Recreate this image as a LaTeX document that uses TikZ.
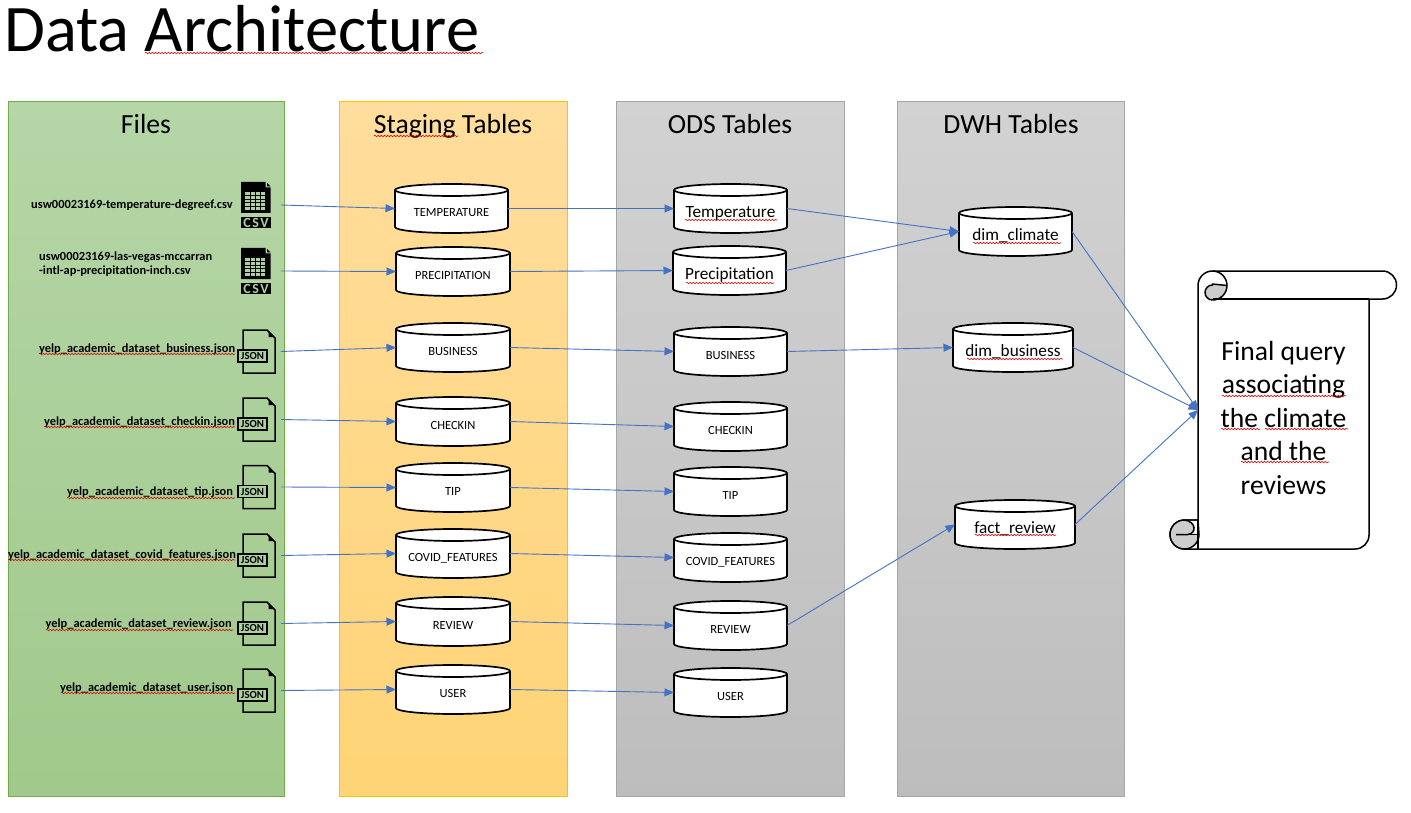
\documentclass[tikz,border=0pt]{standalone}
\usepackage{fontspec}
\setmainfont{Carlito}
\usetikzlibrary{arrows.meta,decorations.pathmorphing}
\definecolor{linkblue}{HTML}{4472C4}
\definecolor{greenA}{HTML}{B5D6A7}
\definecolor{greenB}{HTML}{A0C98B}
\definecolor{greenE}{HTML}{70AD47}
\definecolor{orangeA}{HTML}{FFDD9C}
\definecolor{orangeB}{HTML}{FFD476}
\definecolor{orangeE}{HTML}{FFC000}
\definecolor{greyA}{HTML}{D2D2D2}
\definecolor{greyB}{HTML}{BDBDBD}
\definecolor{greyE}{HTML}{A5A5A5}
\definecolor{curl}{HTML}{CDCDCD}
\definecolor{iconlight}{HTML}{ADD0A0}
\tikzset{
  panel/.style={line width=0.8pt},
  paneltitle/.style={inner sep=0pt,text height=20pt,text depth=6pt,font=\fontsize{27.7}{32}\selectfont},
  filelabel/.style={inner sep=0pt,anchor=west,align=left,font=\fontsize{12.4}{14}\selectfont\bfseries},
  cylbody/.style={draw=black,fill=white,line width=1.7pt},
  cylnode/.style={inner sep=0pt,outer sep=0pt},
  smallcap/.style={font=\fontsize{12.5}{14}\selectfont},
  bigcap/.style={font=\fontsize{17.2}{20}\selectfont},
  iconnode/.style={inner sep=0pt,outer sep=0pt,minimum width=43pt,minimum height=43pt},
  link/.style={draw=linkblue,line width=0.9pt,-{Triangle[length=9.5pt,width=8pt]}},
  squiggle/.style={draw=red!85!black,line width=0.55pt,decorate,decoration={snake,amplitude=0.8pt,segment length=3.2pt}},
  scrollline/.style={draw=black,line width=1.5pt,line join=round}
}
\newcommand{\lowered}[1]{\raisebox{-1pt}[0pt][0pt]{#1}}
\newcommand{\cylshape}[7]{% name, cx, cy, w, h, text, style
  \pgfmathsetmacro{\hw}{#4/2}\pgfmathsetmacro{\hh}{#5/2}
  \begin{scope}[shift={(#2,#3)}]
    \draw[cylbody] (-\hw,-\hh+6) arc[start angle=180,end angle=0,x radius=\hw pt,y radius=6pt]
      -- (\hw,\hh-6) arc[start angle=0,end angle=-180,x radius=\hw pt,y radius=6pt] -- cycle;
    \draw[cylbody,fill=none] (-\hw,-\hh+6) arc[start angle=180,end angle=360,x radius=\hw pt,y radius=6pt];
  \end{scope}
  \node[cylnode,#7,minimum width=#4 pt,minimum height=#5 pt] (#1) at (#2,#3) {\raisebox{-8pt}[0pt][0pt]{#6}};
}
\newcommand{\jsonicon}[2]{% name, cy
  \node[iconnode] (#1) at (259.5,#2) {};
  \begin{scope}[shift={(259.5,#2)}]
    \draw[line width=1.5pt,line join=miter] (7.5,-21.5) -- (-16.5,-21.5) -- (-16.5,21.5) -- (15.5,21.5) -- (15.5,-13.5) -- cycle;
    \fill (9,-20) -- (14,-14.5) -- (9,-14.5) -- cycle;
    \draw[line width=1.7pt,fill=iconlight] (-21.5,-1.5) rectangle (7.5,10.5);
    \node[inner sep=0pt,font=\fontsize{10.8}{11}\selectfont\bfseries] (#1t) at (-7,4.5) {JSON};
  \end{scope}
}
\newcommand{\csvicon}[2]{% name, cy
  \node[iconnode] (#1) at (259.5,#2) {};
  \begin{scope}[shift={(259.5,#2)}]
    \fill (-18.5,-23) -- (6,-23) -- (6,-17.5) -- (11,-17.5) -- (11,8) -- (-18.5,8) -- cycle;
    \fill (7.5,-22) -- (11,-18.5) -- (7.5,-18.5) -- cycle;
    \fill[iconlight] (-14.5,-13) rectangle (5.5,5);
    \foreach \gx in {-9.5,-4.5,0.5}
      \draw[black,line width=0.7pt] (\gx,-13) -- (\gx,5);
    \foreach \gy in {-9.4,-5.8,-2.2,1.4}
      \draw[black,line width=0.7pt] (-14.5,\gy) -- (5.5,\gy);
    \fill (-18.5,12) rectangle (11.5,23);
    \node[inner sep=0pt,text=iconlight,font=\fontsize{14}{14}\selectfont\bfseries] (#1t) at (-3.5,17.5) {C\kern1.5pt S\kern1.5pt V};
  \end{scope}
}
\newcommand{\squig}[3]{\path[squiggle] (#1,#3) -- (#2,#3);}
\begin{document}
\begin{tikzpicture}[x=1pt,y=-1pt]
\useasboundingbox (0,0) rectangle (1411,813);
\fill[white] (0,0) rectangle (1411,813);

\node[inner sep=0pt,anchor=west,font=\fontsize{66.5}{78}\selectfont] (title) at (4,29) {Data Architecture};

% panels
\draw[panel,draw=greenE,top color=greenA,bottom color=greenB] (8.5,101.5) rectangle (284.5,796.5);
\draw[panel,draw=orangeE,top color=orangeA,bottom color=orangeB] (339.5,101.5) rectangle (567.5,796.5);
\draw[panel,draw=greyE,top color=greyA,bottom color=greyB] (616.5,101.5) rectangle (844.5,796.5);
\draw[panel,draw=greyE,top color=greyA,bottom color=greyB] (897.5,101.5) rectangle (1124.5,796.5);
\node[paneltitle] (tfiles) at (146,127) {Files};
\node[paneltitle] (tstage) at (453,127) {Staging Tables};
\node[paneltitle] (tods) at (730,127) {ODS Tables};
\node[paneltitle] (tdwh) at (1011,127) {DWH Tables};

% file labels
\node[filelabel] (l1) at (31,205) {usw00023169-temperature-degreef.csv};
\node[filelabel] (l2) at (39,264.5) {usw00023169-las-vegas-mccarran\\-intl-ap-precipitation-inch.csv};
\node[filelabel] (l3) at (39,349) {yelp\_academic\_dataset\_business.json};
\node[filelabel] (l4) at (44,422) {yelp\_academic\_dataset\_checkin.json};
\node[filelabel] (l5) at (67,492) {yelp\_academic\_dataset\_tip.json};
\node[filelabel] (l6) at (8,555) {yelp\_academic\_dataset\_covid\_features.json};
\node[filelabel] (l7) at (45.5,624) {yelp\_academic\_dataset\_review.json};
\node[filelabel] (l8) at (60,688) {yelp\_academic\_dataset\_user.json};

% file icons
\csvicon{f1}{205}
\csvicon{f2}{271}
\jsonicon{f3}{351.5}
\jsonicon{f4}{419.5}
\jsonicon{f5}{487}
\jsonicon{f6}{555.5}
\jsonicon{f7}{623.5}
\jsonicon{f8}{690.5}

% staging
\cylshape{s1}{451.5}{208.5}{113}{49}{TEMPERATURE}{smallcap}
\cylshape{s2}{453}{271.5}{114}{49}{PRECIPITATION}{smallcap}
\cylshape{s3}{453}{347.5}{114}{49}{BUSINESS}{smallcap}
\cylshape{s4}{453}{421.5}{114}{49}{CHECKIN}{smallcap}
\cylshape{s5}{453}{487.5}{114}{49}{TIP}{smallcap}
\cylshape{s6}{453}{553.5}{114}{49}{COVID\_FEATURES}{smallcap}
\cylshape{s7}{453}{621.5}{114}{49}{REVIEW}{smallcap}
\cylshape{s8}{453}{689.5}{114}{49}{USER}{smallcap}

% ODS
\cylshape{o1}{730.5}{208.5}{113}{49}{\lowered{Temperature}}{bigcap}
\cylshape{o2}{729.5}{270.5}{113}{49}{\lowered{Precipitation}}{bigcap}
\cylshape{o3}{730.5}{351.5}{113}{49}{BUSINESS}{smallcap}
\cylshape{o4}{730.5}{426.5}{113}{49}{CHECKIN}{smallcap}
\cylshape{o5}{730.5}{491.5}{113}{49}{TIP}{smallcap}
\cylshape{o6}{730.5}{557.5}{113}{49}{COVID\_FEATURES}{smallcap}
\cylshape{o7}{730.5}{625.5}{113}{49}{REVIEW}{smallcap}
\cylshape{o8}{730.5}{692.5}{113}{49}{USER}{smallcap}

% DWH
\cylshape{d1}{1015.5}{231.5}{113}{49}{\lowered{dim\_climate}}{bigcap}
\cylshape{d2}{1013}{347.5}{120}{49}{\lowered{dim\_business}}{bigcap}
\cylshape{d3}{1015}{524.5}{120}{49}{\lowered{fact\_review}}{bigcap}

% scroll
\draw[scrollline,fill=white] (1198,520) -- (1198,285.5)
  arc[start angle=180,end angle=90,radius=14.5pt] -- (1382.5,271)
  arc[start angle=90,end angle=-90,radius=14pt] -- (1369,299) -- (1369,535)
  arc[start angle=0,end angle=-90,radius=14pt] -- (1184.5,549)
  arc[start angle=270,end angle=90,radius=14.5pt] -- cycle;
\draw[scrollline] (1212.5,271) arc[start angle=90,end angle=0,radius=14.5pt];
\draw[scrollline,fill=curl] (1212.5,284) -- (1227,285.5) arc[start angle=0,end angle=-90,radius=14.5pt]
  arc[start angle=270,end angle=90,radius=7.5pt] -- cycle;
\draw[scrollline] (1212.5,299) -- (1369,299);
\draw[scrollline,fill=curl] (1184.5,520) arc[start angle=90,end angle=270,radius=14.5pt]
  arc[start angle=-90,end angle=0,radius=14.5pt] -- (1198,520) -- cycle;
\fill[white] (1185,520.8) -- (1197.2,520.8) -- (1197.2,533.5) -- (1190,533.5) .. controls (1197,531) and (1196,522) .. (1185,520.8) -- cycle;
\draw[scrollline] (1176,534.5) -- (1188,534.5) .. controls (1197,533) and (1196,522) .. (1185,520);
\draw[scrollline] (1190,534.5) -- (1198,534.5);
\draw[scrollline] (1198,520) -- (1198,549);
\node[inner sep=0pt,outer sep=0pt,minimum width=171pt,minimum height=278pt] (final) at (1283.5,410) {};
\node[inner sep=0pt,align=center,font=\fontsize{27.6}{33.5}\selectfont] (finaltext) at (1283.5,418) {Final query\\associating\\the climate\\and the\\reviews};

% connectors
\foreach \a/\b in {f1/s1,f2/s2,f3/s3,f4/s4,f5/s5,f6/s6,f7/s7,f8/s8,
                   s1/o1,s2/o2,s3/o3,s4/o4,s5/o5,s6/o6,s7/o7,s8/o8,
                   o1/d1,o2/d1,o3/d2,o7/d3}
  \draw[link] (\a.east) -- (\b.west);
\foreach \a in {d1,d2,d3}
  \draw[link] (\a.east) -- (final.west);

% spell-check underlines
\squig{145}{483}{53}
\squig{374}{458}{136}
\squig{685}{777}{220}
\squig{686}{774}{283}
\squig{973}{1061}{243}
\squig{967}{1063}{359}
\squig{975}{1056}{535}
\squig{39}{235}{354}
\squig{44}{235}{427}
\squig{67}{235}{498}
\squig{8}{235}{560}
\squig{46}{233}{630}
\squig{61}{235}{693}
\squig{1222}{1346}{396}
\squig{1221}{1260}{429}
\squig{1265}{1348}{429}
\squig{1241}{1329}{462}
\end{tikzpicture}
\end{document}
